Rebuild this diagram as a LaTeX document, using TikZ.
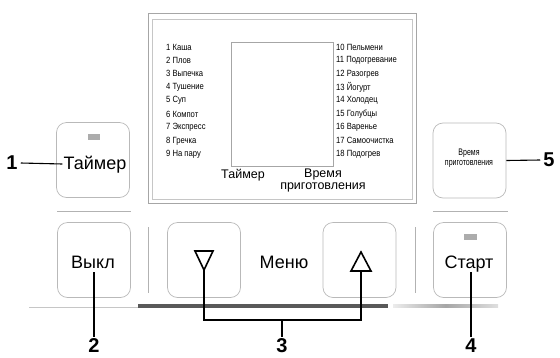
\documentclass[tikz,border=0pt]{standalone}
\usepackage{fontspec}
\setmainfont{Liberation Sans}
\newfontfamily\narrowfont[FakeStretch=0.85]{Liberation Sans}
\newfontfamily\condfont[FakeStretch=0.74]{Liberation Sans}
\usetikzlibrary{calc}
\begin{document}
\begin{tikzpicture}[x=1pt,y=-1pt,
  btn/.style={draw=gray!55,line width=0.7pt,rounded corners=10pt,minimum width=73pt,minimum height=75pt,inner sep=0pt},
  btntext/.style={font=\fontsize{18}{18}\selectfont,inner sep=0pt,anchor=base},
  lbl/.style={font=\fontsize{20}{20}\selectfont\bfseries,inner sep=0pt},
  lead/.style={line width=1.1pt,black},
  led/.style={fill=gray!65,draw=none},
  sep/.style={draw=gray!60,line width=0.9pt},
  listl/.style={font=\narrowfont\fontsize{9}{9}\selectfont,anchor=west,inner sep=0pt},
  disp/.style={font=\fontsize{12.5}{12}\selectfont,inner sep=0pt,align=center}
]
\useasboundingbox (0,0) rectangle (560,357);
% display frame
\draw[gray!70,line width=1pt] (148,13) rectangle (416,203);
\draw[gray!45,line width=0.8pt] (152,19) rectangle (412,199);
\node[draw=gray!70,line width=0.8pt,minimum width=102pt,minimum height=124pt,inner sep=0pt] (lcd) at (282,104) {};
% lists
\foreach \t [count=\i] in {1 Каша,2 Плов,3 Выпечка,4 Тушение,5 Суп,6 Компот,7 Экспресс,8 Гречка,9 На пару}
  \node[listl] (l\i) at (166,{47+(\i-1)*13.4}) {\t};
\foreach \t [count=\i] in {10 Пельмени,11 Подогревание,12 Разогрев,13 Йогурт,14 Холодец,15 Голубцы,16 Варенье,17 Самоочистка,18 Подогрев}
  \node[listl] (r\i) at (336,{47+(\i-1)*13.4}) {\t};
\node[disp] (dtimer) at (243,175) {Таймер};
\node[disp,anchor=north] (dtime) at (323,169) {Время\\приготовления};
% top buttons
\node[btn] (btimer) at (93,160) {};
\fill[led] (88,134) rectangle (100,140);
\node[btntext] (ttimer) at (95,169) {Таймер};
\node[btn] (btime) at (469.5,160.5) {};
\node[font=\condfont\fontsize{9.5}{9.5}\selectfont,align=center,inner sep=0pt] (ttime) at (469,158) {Время\\приготовления};
% separators
\draw[sep] (57,211) -- (131,211);
\draw[sep] (433,211) -- (508,211);
\draw[sep] (148,227) -- (148,293);
\draw[sep] (415,227) -- (415,293);
% bottom buttons
\node[btn] (bvykl) at (94,260) {};
\node[btntext] (tvykl) at (93,268) {Выкл};
\node[btn] (bdown) at (204,260) {};
\node[btn] (bup) at (359.5,260) {};
\node[btntext] (tmenu) at (284,268) {Меню};
\node[btn] (bstart) at (470,260) {};
\fill[led] (464,234) rectangle (477,240);
\node[btntext] (tstart) at (469,268) {Старт};
% triangles
\coordinate (dntip) at (204,270);
\coordinate (upbase) at (361,271);
\draw[line width=1.6pt,line join=miter] (195,251) -- (213,251) -- (dntip) -- cycle;
\draw[line width=1.6pt,line join=miter] (351,271) -- (371,271) -- (361,252) -- cycle;
% bottom bar
\draw[gray!45,line width=3pt] (29,306) -- (138,306);
\draw[white,line width=1.2pt] (29,306) -- (138,306);
\draw[gray!70!black,line width=3.2pt] (138,306) -- (388,306);
\shade[left color=gray!15,right color=gray!25,middle color=gray!70] (393,304.8) rectangle (498,307.2);
% labels
\node[lbl] (n1) at (12,163) {1};
\node[lbl] (n5) at (549,160) {5};
\node[lbl] (n2) at (94,346) {2};
\node[lbl] (n3) at (282,346) {3};
\node[lbl] (n4) at (471,346) {4};
\coordinate (bar) at (282,320);
\draw[lead] (n1.east) ++(3,0) -- ($(ttimer.base west)+(-1,-5)$);
\draw[lead] (btime.east) -- ($(n5.west)+(-3,0)$);
\draw[lead] ($(tvykl.base)+(1,4)$) -- ($(n2.north)+(0,-2)$);
\draw[lead] ($(tstart.base)+(2,4)$) -- ($(n4.north)+(0,-2)$);
\draw[lead] (dntip) |- (bar) -| (upbase);
\draw[lead] (bar) -- ($(n3.north)+(0,-2)$);
\end{tikzpicture}
\end{document}
